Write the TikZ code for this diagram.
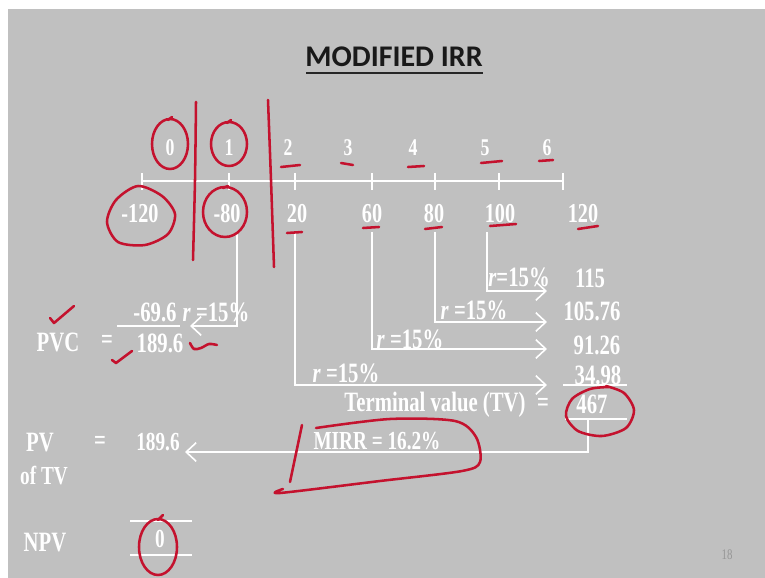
\documentclass[tikz,border=0pt]{standalone}
\usepackage{fontspec}
\newfontfamily\tnr[FakeStretch=0.74]{Liberation Serif}
\newfontfamily\calb{Carlito}
\usetikzlibrary{arrows.meta}
\definecolor{slidegray}{RGB}{192,192,192}
\definecolor{ink}{RGB}{196,18,46}
\definecolor{pgnum}{RGB}{150,150,150}
\begin{document}
\begin{tikzpicture}[x=0.75pt,y=-0.75pt,
  wl/.style={draw=white,line width=1.2pt},
  arr/.style={wl,-{Straight Barb[length=7.5pt,width=14pt,line width=1.2pt]}},
  lbl/.style={text=white,inner sep=0pt,font=\tnr\bfseries\fontsize{21}{21}\selectfont},
  per/.style={lbl,font=\tnr\bfseries\fontsize{18}{18}\selectfont},
  cfl/.style={lbl,font=\tnr\bfseries\fontsize{20.5}{20.5}\selectfont},
  mid/.style={lbl,font=\tnr\bfseries\fontsize{19.5}{19.5}\selectfont},
  pen/.style={draw=ink,line width=1.9pt,line cap=round,line join=round},
]
\useasboundingbox (0,0) rectangle (765,578);
\fill[white] (0,0) rectangle (765,578);
\fill[slidegray] (8,9) rectangle (765,578);

% title
\node[font=\calb\bfseries\fontsize{22.5}{22.5}\selectfont,text=black!90,inner sep=0pt] (title) at (394,57) {MODIFIED IRR};
\coordinate (tu1) at (306,73); \coordinate (tu2) at (483,73);
\draw[line width=2pt,black!85] (tu1) -- (tu2);

% time line
\coordinate (ax0) at (142,181); \coordinate (ax6) at (563,181);
\draw[wl] (ax0) -- (ax6);
\foreach \x in {142,229,295,372,435,499,563} \draw[wl] (\x,173) -- (\x,190);

% periods
\node[per] (p0) at (170,148) {0};
\node[per] (p1) at (229,148) {1};
\node[per] (p2) at (288,148) {2};
\node[per] (p3) at (348,148) {3};
\node[per] (p4) at (413,148) {4};
\node[per] (p5) at (485,148) {5};
\node[per] (p6) at (547,148) {6};

% cash flows
\node[cfl] (c0) at (140,214) {-120};
\node[cfl] (c1) at (227,214) {-80};
\node[cfl] (c2) at (297,214) {20};
\node[cfl] (c3) at (372,214) {60};
\node[cfl] (c4) at (434,214) {80};
\node[cfl] (c5) at (500,214) {100};
\node[cfl] (c6) at (583,214) {120};

% compounding arrows
\coordinate (d2) at (295,232); \coordinate (e2) at (547,385);
\coordinate (d3) at (372,232); \coordinate (e3) at (547,349);
\coordinate (d4) at (435,232); \coordinate (e4) at (547,322);
\coordinate (d5) at (487,232); \coordinate (e5) at (547,291);
\draw[arr] (d2) |- (e2);
\draw[arr] (d3) |- (e3);
\draw[arr] (d4) |- (e4);
\draw[arr] (d5) |- (e5);
\node[lbl] (r5) at (519,277) {\textit{r}=15\%};
\node[lbl] (r4) at (474,310) {\textit{r} =15\%};
\node[lbl] (r3) at (410,339) {\textit{r} =15\%};
\node[lbl] (r2) at (346,373) {\textit{r} =15\%};

% future values
\node[lbl] (v5) at (590,278) {115};
\node[lbl] (v4) at (592,311) {105.76};
\node[lbl] (v3) at (597,345) {91.26};
\node[lbl] (v2) at (598,375) {34.98};
\coordinate (s1) at (563,385); \coordinate (s2) at (627,385);
\draw[wl] (s1) -- (s2);
\node[lbl] (tvl) at (435,405) {Terminal value (TV)};
\node[lbl] (tveq) at (543,405) {=};
\node[lbl] (tv) at (592,404) {467};
\coordinate (u1) at (565,419); \coordinate (u2) at (627,419);
\draw[wl] (u1) -- (u2);
\coordinate (dtv) at (588,419); \coordinate (etv) at (185,452);
\draw[arr] (dtv) |- (etv);
\node[mid] (mirr) at (377,441) {MIRR = 16.2\%};

% PV of TV
\node[lbl] (pv) at (40,443) {PV};
\node[mid] (oftv) at (44,476) {of TV};
\node[lbl] (pveq) at (100,443) {=};
\node[mid] (pvv) at (158,442) {189.6};

% PVC
\coordinate (d1) at (237,232); \coordinate (e1) at (190,326);
\draw[arr] (d1) |- (e1);
\node[lbl] (m69) at (155,312) {-69.6};
\node[lbl] (r1) at (216,312) {\textit{r} =15\%};
\coordinate (l1) at (117,326); \coordinate (l2) at (180,326);
\draw[wl] (l1) -- (l2);
\node[lbl] (pvc) at (58,342) {PVC};
\node[lbl] (pvceq) at (107,342) {=};
\node[lbl] (pvcv) at (160,343) {189.6};

% NPV
\node[lbl] (npv) at (45,543) {NPV};
\node[mid] (npvv) at (160,539) {0};
\coordinate (n1) at (130,521); \coordinate (n2) at (192,521);
\coordinate (n3) at (130,555); \coordinate (n4) at (192,555);
\draw[wl] (n1) -- (n2);
\draw[wl] (n3) -- (n4);

% page number
\node[text=pgnum,inner sep=0pt,font=\tnr\fontsize{11}{11}\selectfont] (pg) at (727,555) {18};

% ---- red pen annotations ----
\draw[pen] (170,144) ellipse [x radius=18, y radius=25];
\draw[pen] (168,120) -- (172,117);
\draw[pen] (229,144) ellipse [x radius=18, y radius=22];
\draw[pen] (227,123) -- (231,120);
\draw[pen] plot[smooth cycle] coordinates {(138,186) (162,196) (175,214) (168,234) (145,245) (118,242) (107,222) (116,200)};
\draw[pen] (225,212) ellipse [x radius=22, y radius=25];
\draw[pen] (223,188) -- (228,186);
\draw[pen] plot[smooth] coordinates {(196,102) (195,180) (193,260)};
\draw[pen] plot[smooth] coordinates {(268,100) (271,180) (274,267)};
% period underlines
\draw[pen] (281,167) -- (300,165);
\draw[pen] (341,163) -- (353,165);
\draw[pen] (408,167) -- (424,166);
\draw[pen] (481,163) -- (502,161);
\draw[pen] (539,161) -- (553,160);
% cash flow underlines
\draw[pen] (287,233) -- (302,232);
\draw[pen] (363,228) -- (379,227);
\draw[pen] (425,229) -- (442,227);
\draw[pen] (490,226) -- (516,224);
\draw[pen] (578,229) -- (598,226);
% checks
\draw[pen] (50,318) -- (54,323) -- (74,306);
\draw[pen] (112,360) -- (116,363) -- (132,351);
\draw[pen] plot[smooth] coordinates {(190,343) (194,349) (201,348) (209,344) (217,345)};
% 467 circle
\draw[pen] plot[smooth] coordinates {(606,386) (624,393) (634,410) (626,428) (602,436) (578,431) (566,416) (572,399) (590,389) (609,387)};
% MIRR mark
\draw[pen] (302,425) -- (290,482);
\draw[pen] plot[smooth] coordinates {(316,428) (390,419) (455,421) (476,437) (480,462) (462,471) (380,481) (280,493) (283,489)};
% NPV circle
\draw[pen] (158,547) ellipse [x radius=19, y radius=28];
\draw[pen] (158,520) -- (163,515);
\end{tikzpicture}
\end{document}
